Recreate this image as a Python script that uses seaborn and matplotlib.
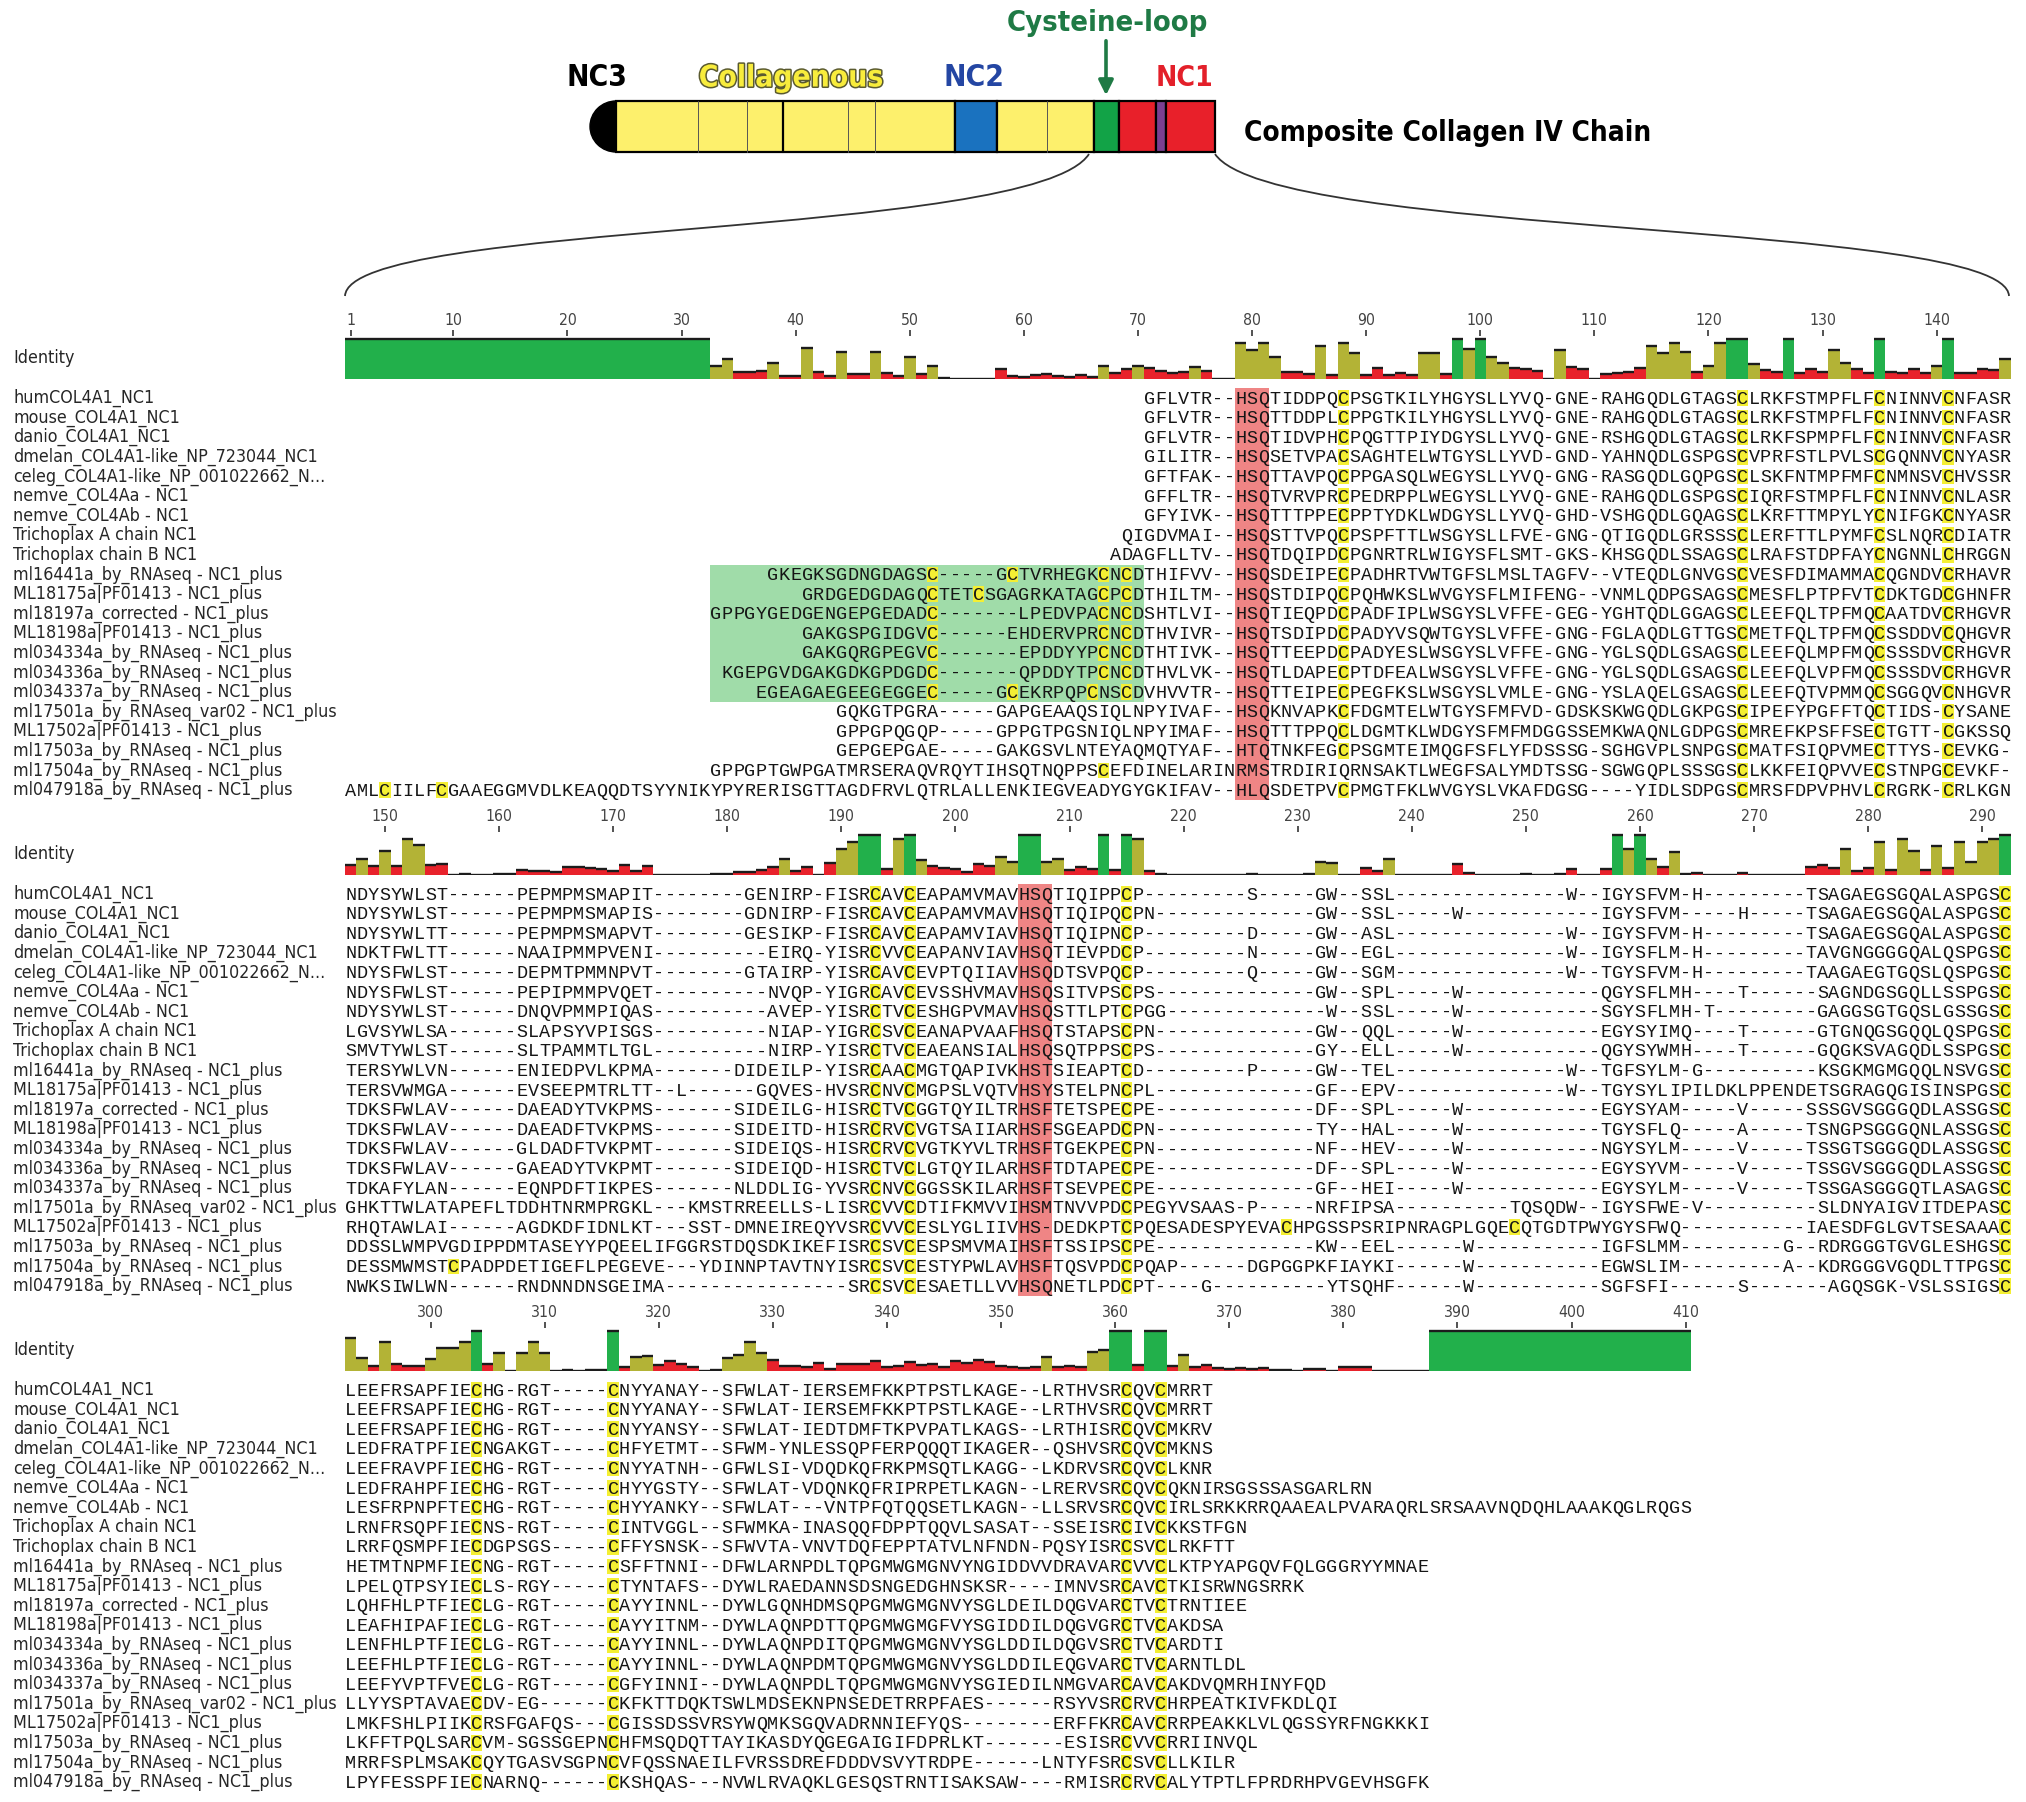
import pandas as pd
import seaborn as sns
import matplotlib.pyplot as plt
import matplotlib.patheffects as pe
from matplotlib import font_manager as fm
from matplotlib.patches import Rectangle, Ellipse, FancyArrowPatch, PathPatch
from matplotlib.path import Path

W, H = 2026, 1802

NAMES = [
    "humCOL4A1_NC1", "mouse_COL4A1_NC1", "danio_COL4A1_NC1",
    "dmelan_COL4A1-like_NP_723044_NC1", "celeg_COL4A1-like_NP_001022662_N...",
    "nemve_COL4Aa - NC1", "nemve_COL4Ab - NC1", "Trichoplax A chain NC1",
    "Trichoplax chain B NC1", "ml16441a_by_RNAseq - NC1_plus",
    "ML18175a|PF01413 - NC1_plus", "ml18197a_corrected - NC1_plus",
    "ML18198a|PF01413 - NC1_plus", "ml034334a_by_RNAseq - NC1_plus",
    "ml034336a_by_RNAseq - NC1_plus", "ml034337a_by_RNAseq - NC1_plus",
    "ml17501a_by_RNAseq_var02 - NC1_plus", "ML17502a|PF01413 - NC1_plus",
    "ml17503a_by_RNAseq - NC1_plus", "ml17504a_by_RNAseq - NC1_plus",
    "ml047918a_by_RNAseq - NC1_plus",
]

# alignment columns 1-146 (right aligned, leading end gaps left blank)
BLOCK1 = [
    "GFLVTR--HSQTIDDPQCPSGTKILYHGYSLLYVQ-GNE-RAHGQDLGTAGSCLRKFSTMPFLFCNINNVCNFASR",
    "GFLVTR--HSQTTDDPLCPPGTKILYHGYSLLYVQ-GNE-RAHGQDLGTAGSCLRKFSTMPFLFCNINNVCNFASR",
    "GFLVTR--HSQTIDVPHCPQGTTPIYDGYSLLYVQ-GNE-RSHGQDLGTAGSCLRKFSPMPFLFCNINNVCNFASR",
    "GILITR--HSQSETVPACSAGHTELWTGYSLLYVD-GND-YAHNQDLGSPGSCVPRFSTLPVLSCGQNNVCNYASR",
    "GFTFAK--HSQTTAVPQCPPGASQLWEGYSLLYVQ-GNG-RASGQDLGQPGSCLSKFNTMPFMFCNMNSVCHVSSR",
    "GFFLTR--HSQTVRVPRCPEDRPPLWEGYSLLYVQ-GNE-RAHGQDLGSPGSCIQRFSTMPFLFCNINNVCNLASR",
    "GFYIVK--HSQTTTPPECPPTYDKLWDGYSLLYVQ-GHD-VSHGQDLGQAGSCLKRFTTMPYLYCNIFGKCNYASR",
    "QIGDVMAI--HSQSTTVPQCPSPFTTLWSGYSLLFVE-GNG-QTIGQDLGRSSSCLERFTTLPYMFCSLNQRCDIATR",
    "ADAGFLLTV--HSQTDQIPDCPGNRTRLWIGYSFLSMT-GKS-KHSGQDLSSAGSCLRAFSTDPFAYCNGNNLCHRGGN",
    "GKEGKSGDNGDAGSC-----GCTVRHEGKCNCDTHIFVV--HSQSDEIPECPADHRTVWTGFSLMSLTAGFV--VTEQDLGNVGSCVESFDIMAMMACQGNDVCRHAVR",
    "GRDGEDGDAGQCTETCSGAGRKATAGCPCDTHILTM--HSQSTDIPQCPQHWKSLWVGYSFLMIFENG--VNMLQDPGSAGSCMESFLPTPFVTCDKTGDCGHNFR",
    "GPPGYGEDGENGEPGEDADC-------LPEDVPACNCDSHTLVI--HSQTIEQPDCPADFIPLWSGYSLVFFE-GEG-YGHTQDLGGAGSCLEEFQLTPFMQCAATDVCRHGVR",
    "GAKGSPGIDGVC------EHDERVPRCNCDTHVIVR--HSQTSDIPDCPADYVSQWTGYSLVFFE-GNG-FGLAQDLGTTGSCMETFQLTPFMQCSSDDVCQHGVR",
    "GAKGQRGPEGVC-------EPDDYYPCNCDTHTIVK--HSQTTEEPDCPADYESLWSGYSLVFFE-GNG-YGLSQDLGSAGSCLEEFQLMPFMQCSSSDVCRHGVR",
    "KGEPGVDGAKGDKGPDGDC-------QPDDYTPCNCDTHVLVK--HSQTLDAPECPTDFEALWSGYSLVFFE-GNG-YGLSQDLGSAGSCLEEFQLVPFMQCSSSDVCRHGVR",
    "EGEAGAEGEEGEGGEC-----GCEKRPQPCNSCDVHVVTR--HSQTTEIPECPEGFKSLWSGYSLVMLE-GNG-YSLAQELGSAGSCLEEFQTVPMMQCSGGQVCNHGVR",
    "GQKGTPGRA-----GAPGEAAQSIQLNPYIVAF--HSQKNVAPKCFDGMTELWTGYSFMFVD-GDSKSKWGQDLGKPGSCIPEFYPGFFTQCTIDS-CYSANE",
    "GPPGPQGQP-----GPPGTPGSNIQLNPYIMAF--HSQTTTPPQCLDGMTKLWDGYSFMFMDGGSSEMKWAQNLGDPGSCMREFKPSFFSECTGTT-CGKSSQ",
    "GEPGEPGAE-----GAKGSVLNTEYAQMQTYAF--HTQTNKFEGCPSGMTEIMQGFSFLYFDSSSG-SGHGVPLSNPGSCMATFSIQPVMECTTYS-CEVKG-",
    "GPPGPTGWPGATMRSERAQVRQYTIHSQTNQPPSCEFDINELARINRMSTRDIRIQRNSAKTLWEGFSALYMDTSSG-SGWGQPLSSSGSCLKKFEIQPVVECSTNPGCEVKF-",
    "AMLCIILFCGAAEGGMVDLKEAQQDTSYYNIKYPYRERISGTTAGDFRVLQTRLALLENKIEGVEADYGYGKIFAV--HLQSDETPVCPMGTFKLWVGYSLVKAFDGSG----YIDLSDPGSCMRSFDPVPHVLCRGRK-CRLKGN",
]

# alignment columns 147-292
BLOCK2 = [
    "NDYSYWLST------PEPMPMSMAPIT--------GENIRP-FISRCAVCEAPAMVMAVHSQTIQIPPCP---" "------S-----GW--SSL---------------W--IGYSFVM-H---------TSAGAEGSGQALASPGSC",
    "NDYSYWLST------PEPMPMSMAPIS--------GDNIRP-FISRCAVCEAPAMVMAVHSQTIQIPQCPN--" "------------GW--SSL-----W------------IGYSFVM-----H-----TSAGAEGSGQALASPGSC",
    "NDYSYWLTT------PEPMPMSMAPVT--------GESIKP-FISRCAVCEAPAMVIAVHSQTIQIPNCP---" "------D-----GW--ASL---------------W--IGYSFVM-H---------TSAGAEGSGQALASPGSC",
    "NDKTFWLTT------NAAIPMMPVENI----------EIRQ-YISRCVVCEAPANVIAVHSQTIEVPDCP---" "------N-----GW--EGL---------------W--IGYSFLM-H---------TAVGNGGGGQALQSPGSC",
    "NDYSFWLST------DEPMTPMMNPVT--------GTAIRP-YISRCAVCEVPTQIIAVHSQDTSVPQCP---" "------Q-----GW--SGM---------------W--TGYSFVM-H---------TAAGAEGTGQSLQSPGSC",
    "NDYSFWLST------PEPIPMMPVQET----------NVQP-YIGRCAVCEVSSHVMAVHSQSITVPSCPS--" "------------GW--SPL-----W------------QGYSFLMH----T------SAGNDGSGQLLSSPGSC",
    "NDYSYWLST------DNQVPMMPIQAS----------AVEP-YISRCTVCESHGPVMAVHSQSTTLPTCPGG-" "-------------W--SSL-----W------------SGYSFLMH-T---------GAGGSGTGQSLGSSGSC",
    "LGVSYWLSA------SLAPSYVPISGS----------NIAP-YIGRCSVCEANAPVAAFHSQTSTAPSCPN--" "------------GW--QQL-----W------------EGYSYIMQ----T------GTGNQGSGQQLQSPGSC",
    "SMVTYWLST------SLTPAMMTLTGL----------NIRP-YISRCTVCEAEANSIALHSQSQTPPSCPS--" "------------GY--ELL-----W------------QGYSYWMH----T------GQGKSVAGQDLSSPGSC",
    "TERSYWLVN------ENIEDPVLKPMA-------DIDEILP-YISRCAACMGTQAPIVKHSTSIEAPTCD---" "------P-----GW--TEL---------------W--TGFSYLM-G----------KSGKMGMGQQLNSVGSC",
    "TERSVWMGA------EVSEEPMTRLTT--L------GQVES-HVSRCNVCMGPSLVQTVHSYSTELPNCPL--" "------------GF--EPV---------------W--TGYSYLIPILDKLPPENDETSGRAGQGISINSPGSC",
    "TDKSFWLAV------DAEADYTVKPMS-------SIDEILG-HISRCTVCGGTQYILTRHSFTETSPECPE--" "------------DF--SPL-----W------------EGYSYAM-----V-----SSSGVSGGGQDLASSGSC",
    "TDKSFWLAV------DAEADFTVKPMS-------SIDEITD-HISRCRVCVGTSAIIARHSFSGEAPDCPN--" "------------TY--HAL-----W------------TGYSFLQ-----A-----TSNGPSGGGQNLASSGSC",
    "TDKSFWLAV------GLDADFTVKPMT-------SIDEIQS-HISRCRVCVGTKYVLTRHSFTGEKPECPN--" "------------NF--HEV-----W------------NGYSYLM-----V-----TSSGTSGGGQDLASSGSC",
    "TDKSFWLAV------GAEADYTVKPMT-------SIDEIQD-HISRCTVCLGTQYILARHSFTDTAPECPE--" "------------DF--SPL-----W------------EGYSYVM-----V-----TSSGVSGGGQDLASSGSC",
    "TDKAFYLAN------EQNPDFTIKPES-------NLDDLIG-YVSRCNVCGGSSKILARHSFTSEVPECPE--" "------------GF--HEI-----W------------EGYSYLM-----V-----TSSGASGGGQTLASAGSC",
    "GHKTTWLATAPEFLTDDHTNRMPRGKL---KMSTRREELLS-LISRCVVCDTIFKMVVIHSMTNVVPDCPEGY" "VSAAS-P-----NRFIPSA----------TQSQDW--IGYSFWE-V----------SLDNYAIGVITDEPASC",
    "RHQTAWLAI------AGDKDFIDNLKT---SST-DMNEIREQYVSRCVVCESLYGLIIVHS-DEDKPTCPQES" "ADESPYEVACHPGSSPSRIPNRAGPLGQECQTGDTPWYGYSFWQ-----------IAESDFGLGVTSESAAAC",
    "DDSSLWMPVGDIPPDMTASEYYPQEELIFGGRSTDQSDKIKEFISRCSVCESPSMVMAIHSFTSSIPSCPE--" "------------KW--EEL------W-----------IGFSLMM---------G--RDRGGGTGVGLESHGSC",
    "DESSMWMSTCPADPDETIGEFLPEGEVE---YDINNPTAVTNYISRCSVCESTYPWLAVHSFTQSVPDCPQAP" "------DGPGGPKFIAYKI------W-----------EGWSLIM---------A--KDRGGGVGQDLTTPGSC",
    "NWKSIWLWN------RNDNNDNSGEIMA----------------SRCSVCESAETLLVVHSQNETLPDCPT--" "--G----------YTSQHF------W-----------SGFSFI------S-------AGQSGK-VSLSSIGSC",
]

# alignment columns 293-410 (trailing end gaps left blank)
BLOCK3 = [
    "LEEFRSAPFIECHG-RGT-----CNYYANAY--SFWLAT-IERSEMFKKPTPSTLKAGE--LRTHVSRCQVCMRRT",
    "LEEFRSAPFIECHG-RGT-----CNYYANAY--SFWLAT-IERSEMFKKPTPSTLKAGE--LRTHVSRCQVCMRRT",
    "LEEFRSAPFIECHG-RGT-----CNYYANSY--SFWLAT-IEDTDMFTKPVPATLKAGS--LRTHISRCQVCMKRV",
    "LEDFRATPFIECNGAKGT-----CHFYETMT--SFWM-YNLESSQPFERPQQQTIKAGER--QSHVSRCQVCMKNS",
    "LEEFRAVPFIECHG-RGT-----CNYYATNH--GFWLSI-VDQDKQFRKPMSQTLKAGG--LKDRVSRCQVCLKNR",
    "LEDFRAHPFIECHG-RGT-----CHYYGSTY--SFWLAT-VDQNKQFRIPRPETLKAGN--LRERVSRCQVCQKNIRSGSSSASGARLRN",
    "LESFRPNPFTECHG-RGT-----CHYYANKY--SFWLAT---VNTPFQTQQSETLKAGN--LLSRVSRCQVCIRLSRKKRRQAAEALPVARAQRLSRSAAVNQDQHLAAAKQGLRQGS",
    "LRNFRSQPFIECNS-RGT-----CINTVGGL--SFWMKA-INASQQFDPPTQQVLSASAT--SSEISRCIVCKKSTFGN",
    "LRRFQSMPFIECDGPSGS-----CFFYSNSK--SFWVTA-VNVTDQFEPPTATVLNFNDN-PQSYISRCSVCLRKFTT",
    "HETMTNPMFIECNG-RGT-----CSFFTNNI--DFWLARNPDLTQPGMWGMGNVYNGIDDVVDRAVARCVVCLKTPYAPGQVFQLGGGRYYMNAE",
    "LPELQTPSYIECLS-RGY-----CTYNTAFS--DYWLRAEDANNSDSNGEDGHNSKSR----IMNVSRCAVCTKISRWNGSRRK",
    "LQHFHLPTFIECLG-RGT-----CAYYINNL--DYWLGQNHDMSQPGMWGMGNVYSGLDEILDQGVARCTVCTRNTIEE",
    "LEAFHIPAFIECLG-RGT-----CAYYITNM--DYWLAQNPDTTQPGMWGMGFVYSGIDDILDQGVGRCTVCAKDSA",
    "LENFHLPTFIECLG-RGT-----CAYYINNL--DYWLAQNPDITQPGMWGMGNVYSGLDDILDQGVSRCTVCARDTI",
    "LEEFHLPTFIECLG-RGT-----CAYYINNL--DYWLAQNPDMTQPGMWGMGNVYSGLDDILEQGVARCTVCARNTLDL",
    "LEEFYVPTFVECLG-RGT-----CGFYINNI--DYWLAQNPDLTQPGMWGMGNVYSGIEDILNMGVARCAVCAKDVQMRHINYFQD",
    "LLYYSPTAVAECDV-EG------CKFKTTDQKTSWLMDSEKNPNSEDETRRPFAES------RSYVSRCRVCHRPEATKIVFKDLQI",
    "LMKFSHLPIIKCRSFGAFQS---CGISSDSSVRSYWQMKSGQVADRNNIEFYQS--------ERFFKRCAVCRRPEAKKLVLQGSSYRFNGKKKI",
    "LKFFTPQLSARCVM-SGSSGEPNCHFMSQDQTTAYIKASDYQGEGAIGIFDPRLKT-------ESISRCVVCRRIINVQL",
    "MRRFSPLMSAKCQYTGASVSGPNCVFQSSNAEILFVRSSDREFDDDVSVYTRDPE------LNTYFSRCSVCLLKILR",
    "LPYFESSPFIECNARNQ------CKSHQAS---NVWLRVAQKLGESQSTRNTISAKSAW----RMISRCRVCALYTPTLFPRDRHPVGEVHSGFK",
]

TICKS = [[1] + list(range(10, 141, 10)), list(range(150, 291, 10)), list(range(300, 411, 10))]
HSQ_COLS = [79, 60, None]          # first column of the red HSQ box in each block
LOOP_BOX = (33, 70, 9, 15)         # green box: first/last column, first/last row (block 1)

PAL = {"full": "#22b04b", "mid": "#b3b336", "low": "#e8222b"}
SEQ_FONT = "Liberation Mono"

NB = 146
rows = []
for i in range(len(NAMES)):
    b1, b2, b3 = BLOCK1[i], BLOCK2[i], BLOCK3[i]
    assert len(b1) <= NB and len(b2) == NB and len(b3) <= NB, (i, len(b1), len(b2), len(b3))
    rows.append(b1.rjust(NB) + b2 + b3.ljust(NB))


def identity(chars):
    res = [c for c in chars if c != " "]
    if not res:
        return None
    if len(res) == 1:
        return 1.0 if res[0] != "-" else 0.0
    same = tot = 0
    for i in range(len(res)):
        for j in range(i + 1, len(res)):
            if res[i] == "-" and res[j] == "-":
                continue
            tot += 1
            same += res[i] == res[j]
    return same / tot if tot else 0.0


def condensed(bold):
    # look for an installed narrow / condensed sans face
    want = ("condensed", "semi-condensed", "extra-condensed")
    best = None
    for f in fm.fontManager.ttflist:
        name = f.fname.lower()
        if "mono" in name or "serif" in name or f.style != "normal":
            continue
        narrow = f.stretch in want or "narrow" in name or "condensed" in name
        if not narrow:
            continue
        w = f.weight if isinstance(f.weight, int) else fm.weight_dict.get(f.weight, 400)
        if (w >= 600) != bold:
            continue
        if "semi" in name or "extra" in name or "ultra" in name:
            continue
        best = f.fname
        if "liberation" in name or "dejavu" in name:
            break
    if best:
        return fm.FontProperties(fname=best)
    return fm.FontProperties(family="Liberation Sans", weight="bold" if bold else "normal")


sns.set_theme(style="white")
plt.rcParams["font.family"] = ["Liberation Sans", "DejaVu Sans"]

fig = plt.figure(figsize=(W / 100, H / 100), dpi=100)
renderer = fig.canvas.get_renderer()


def fitted(prop, text, width_px):
    p = prop.copy()
    p.set_size(20)
    w, _, _ = renderer.get_text_width_height_descent(text, p, ismath=False)
    p.set_size(20 * width_px / w)
    return p


REG = condensed(False)
BOLD = condensed(True)
LAB = fitted(REG, "ml17501a_by_RNAseq_var02 - NC1_plus", 322)
TICKP = fitted(REG, "100", 27)

# ---------- top schematic (pixel coordinates) ----------
ax0 = fig.add_axes([0, 0, 1, 1])
ax0.set_xlim(0, W)
ax0.set_ylim(H, 0)
ax0.axis("off")

y0, y1 = 101, 152
segs = [(616, 955, "#fdf06c"), (955, 997, "#1a72bf"), (997, 1094, "#fdf06c"),
        (1094, 1119, "#12a347"), (1119, 1156, "#e8202a"), (1156, 1166, "#7b3f90"),
        (1166, 1215, "#e8202a")]
ax0.add_patch(Ellipse((616, (y0 + y1) / 2), 52, y1 - y0, color="black"))
for a, b, c in segs:
    ax0.add_patch(Rectangle((a, y0), b - a, y1 - y0, facecolor=c, edgecolor="black", lw=1.6))
for x in [698, 747, 848, 875, 1047]:
    ax0.plot([x, x], [y0, y1], color="#555", lw=0.7)
ax0.plot([783, 783], [y0, y1], color="black", lw=1.6)

HEAD = [("NC3", 597, 78, 61, "black"), ("Collagenous", 791, 78, 185, "#f8ec3c"),
        ("NC2", 974, 78, 61, "#2446a3"), ("NC1", 1185, 78, 58, "#e3202a"),
        ("Cysteine-loop", 1107, 23, 202, "#1f7a45")]
for txt, x, y, wpx, col in HEAD:
    kw = {}
    if txt == "Collagenous":
        kw["path_effects"] = [pe.withStroke(linewidth=2.2, foreground="#5a5a30")]
    ax0.text(x, y, txt, color=col, fontproperties=fitted(BOLD, txt, wpx),
             ha="center", va="center", **kw)
ax0.add_patch(FancyArrowPatch((1106, 38), (1106, 98), arrowstyle="-|>", mutation_scale=22,
                              color="#1f7a45", lw=2.6))
ax0.text(1244, 133, "Composite Collagen IV Chain", color="black",
         fontproperties=fitted(BOLD, "Composite Collagen IV Chain", 407),
         ha="left", va="center")

for pts in [[(1089, 154), (1034, 239), (349, 220), (345, 296)],
            [(1215, 154), (1273, 239), (2005, 220), (2009, 296)]]:
    ax0.add_patch(PathPatch(Path(pts, [Path.MOVETO, Path.CURVE4, Path.CURVE4, Path.CURVE4]),
                            fill=False, edgecolor="#333", lw=1.3))

# ---------- alignment blocks ----------
X0, CW = 345, 11.41          # left edge of column 1, column width (px)
ROW = 19.6
for blk in range(3):
    base = 379 + blk * 496
    row0 = 398 + blk * 496
    off = blk * NB

    # identity graph
    cols, vals = [], []
    for c in range(NB):
        v = identity([r[off + c] for r in rows])
        if v is not None:
            cols.append(c + 1)
            vals.append(v)
    df = pd.DataFrame({"col": cols, "ident": vals})
    df["cls"] = ["full" if v >= 0.999 else ("mid" if v >= 0.3 else "low") for v in vals]

    ax = fig.add_axes([X0 / W, 1 - base / H, NB * CW / W, 43 / H])
    sns.barplot(data=df, x="col", y="ident", hue="cls", palette=PAL, native_scale=True,
                width=1.0, dodge=False, legend=False, errorbar=None, saturation=1,
                linewidth=0, ax=ax)
    ax.hlines(df["ident"], df["col"] - 0.5, df["col"] + 0.5, colors="#1c1c1c", lw=1.7)
    ax.set_xlim(0.5, NB + 0.5)
    ax.set_ylim(0, 43 / 40)
    ax.set_xlabel("")
    ax.set_ylabel("")
    ax.set_yticks([])
    ax.set_xticks([t - off for t in TICKS[blk]])
    ax.set_xticklabels([str(t) for t in TICKS[blk]], fontproperties=TICKP)
    ax.xaxis.set_ticks_position("top")
    ax.tick_params(axis="x", top=True, bottom=False, labeltop=True, labelbottom=False,
                   length=4.5, width=1.3, color="#444", labelcolor="#444", pad=1)
    for s in ax.spines.values():
        s.set_visible(False)
    ax.patch.set_alpha(0)
    fig.text(13 / W, 1 - (base - 21) / H, "Identity", fontproperties=LAB,
             ha="left", va="center")

    # sequences
    axs = fig.add_axes([X0 / W, 1 - (row0 + 20 * ROW + ROW / 2) / H, NB * CW / W, 21 * ROW / H])
    axs.set_xlim(0.5, NB + 0.5)
    axs.set_ylim(20.5, -0.5)
    axs.axis("off")
    if HSQ_COLS[blk]:
        axs.add_patch(Rectangle((HSQ_COLS[blk] - 0.5, -0.5), 3, 21, color="#ef8585", lw=0))
    if blk == 0:
        c1, c2, r1, r2 = LOOP_BOX
        axs.add_patch(Rectangle((c1 - 0.5, r1 - 0.5), c2 - c1 + 1, r2 - r1 + 1,
                                color="#a0dca9", lw=0))
    for i, r in enumerate(rows):
        fig.text(13 / W, 1 - (row0 + i * ROW) / H, NAMES[i], fontproperties=LAB,
                 ha="left", va="center")
        for c in range(NB):
            ch = r[off + c]
            if ch == " ":
                continue
            if ch == "C":
                axs.add_patch(Rectangle((c + 0.5, i - 0.4), 1, 0.8, color="#f4ef33", lw=0))
            axs.text(c + 1, i + 0.29, ch, family=SEQ_FONT, fontsize=13.3, color="#151515",
                     ha="center", va="baseline")

fig.savefig("out.png", dpi=100)
